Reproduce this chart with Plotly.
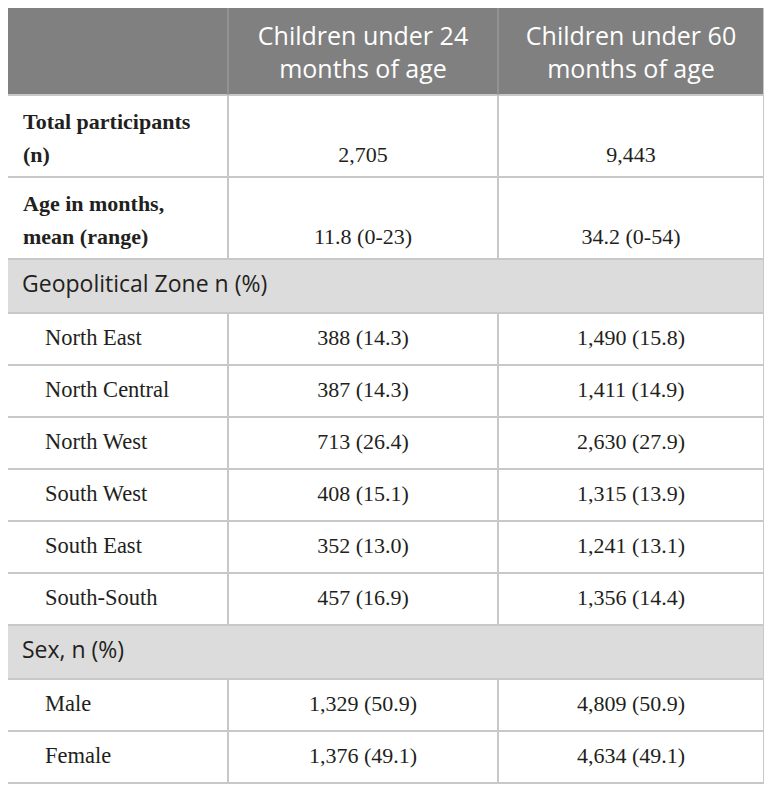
import plotly.graph_objects as go

# Dados da tabela
col_headers = ["Children under 24<br>months of age", "Children under 60<br>months of age"]
row_labels = ["Total participants<br>(n)", "Age in months,<br>mean (range)",
              "Geopolitical Zone n (%)",
              "North East", "North Central", "North West", "South West", "South East", "South-South",
              "Sex, n (%)",
              "Male", "Female"]
row_kinds = ["bold", "bold", "section",
             "item", "item", "item", "item", "item", "item",
             "section", "item", "item"]
under_24 = ["2,705", "11.8 (0-23)", None,
            "388 (14.3)", "387 (14.3)", "713 (26.4)", "408 (15.1)", "352 (13.0)", "457 (16.9)",
            None, "1,329 (50.9)", "1,376 (49.1)"]
under_60 = ["9,443", "34.2 (0-54)", None,
            "1,490 (15.8)", "1,411 (14.9)", "2,630 (27.9)", "1,315 (13.9)", "1,241 (13.1)", "1,356 (14.4)",
            None, "4,809 (50.9)", "4,634 (49.1)"]

# Geometria (pixels da página; a figura fica deslocada 8px pela margem do body)
off = 8
col_edges = [7, 228, 498, 764]
header_h = 88
row_heights = {"bold": 82, "section": 54, "item": 52}
line_color = "#c8c8c8"
header_bg = "#808080"
section_bg = "#dcdcdc"
text_color = "#231f20"
sans = "Open Sans"
serif = "Liberation Serif"

fig = go.Figure()

# limites das linhas
edges = [7, 7 + header_h]
for k in row_kinds:
    edges.append(edges[-1] + row_heights[k])

# fundo do cabeçalho e das seções
fig.add_shape(type="rect", x0=col_edges[0], x1=col_edges[-1], y0=edges[0], y1=edges[1],
              fillcolor=header_bg, line=dict(width=0), layer="below")
for i, k in enumerate(row_kinds):
    if k == "section":
        fig.add_shape(type="rect", x0=col_edges[0], x1=col_edges[-1], y0=edges[i + 1], y1=edges[i + 2],
                      fillcolor=section_bg, line=dict(width=0), layer="below")

# linhas horizontais
for y in edges[1:-1]:
    fig.add_shape(type="line", x0=col_edges[0], x1=col_edges[-1], y0=y, y1=y,
                  line=dict(color=line_color, width=2))

# linhas verticais (cabeçalho)
for x in col_edges[1:-1]:
    fig.add_shape(type="line", x0=x, x1=x, y0=edges[0], y1=edges[1],
                  line=dict(color="#9a9a9a", width=1.5))
# linhas verticais (corpo, exceto seções)
for i, k in enumerate(row_kinds):
    if k != "section":
        for x in col_edges[1:-1]:
            fig.add_shape(type="line", x0=x, x1=x, y0=edges[i + 1], y1=edges[i + 2],
                          line=dict(color=line_color, width=2))

# borda externa
fig.add_shape(type="rect", x0=col_edges[0], x1=col_edges[-1], y0=edges[0], y1=edges[-1],
              line=dict(color=line_color, width=2), fillcolor="rgba(0,0,0,0)")

# texto do cabeçalho
hx = [(col_edges[j + 1] + col_edges[j + 2]) / 2 for j in range(len(col_headers))]
hy = (edges[0] + edges[1]) / 2 + 4
fig.add_trace(go.Scatter(x=hx, y=[hy] * len(hx), text=col_headers, mode="text",
                         textposition="middle center",
                         textfont=dict(family=sans, size=25, color="white"), hoverinfo="skip"))

# corpo
for i, k in enumerate(row_kinds):
    y0, y1 = edges[i + 1], edges[i + 2]
    yc = (y0 + y1) / 2
    if k == "section":
        fig.add_trace(go.Scatter(x=[col_edges[0] + 15], y=[yc], text=[row_labels[i]], mode="text",
                                 textposition="middle right",
                                 textfont=dict(family=sans, size=23, color=text_color), hoverinfo="skip"))
        continue
    if k == "bold":
        lines = row_labels[i].split("<br>")
        ys = [yc - 13, yc + 20]
        fig.add_trace(go.Scatter(x=[col_edges[0] + 16] * len(lines), y=ys,
                                 text=["<b>" + t + "</b>" for t in lines], mode="text",
                                 textposition="middle right",
                                 textfont=dict(family=serif, size=22, color=text_color), hoverinfo="skip"))
        vy = ys[-1]
    else:
        fig.add_trace(go.Scatter(x=[col_edges[0] + 38], y=[yc], text=[row_labels[i]], mode="text",
                                 textposition="middle right",
                                 textfont=dict(family=serif, size=22.5, color=text_color), hoverinfo="skip"))
        vy = yc
    fig.add_trace(go.Scatter(x=hx, y=[vy, vy], text=[under_24[i], under_60[i]], mode="text",
                             textposition="middle center",
                             textfont=dict(family=serif, size=22, color=text_color), hoverinfo="skip"))

fig.update_xaxes(visible=False, range=[off, off + 772], fixedrange=True)
fig.update_yaxes(visible=False, range=[off + 791, off], fixedrange=True)
fig.update_layout(width=772, height=791, margin=dict(l=0, r=0, t=0, b=0),
                  paper_bgcolor="white", plot_bgcolor="white", showlegend=False)

fig.write_html("out.html")
